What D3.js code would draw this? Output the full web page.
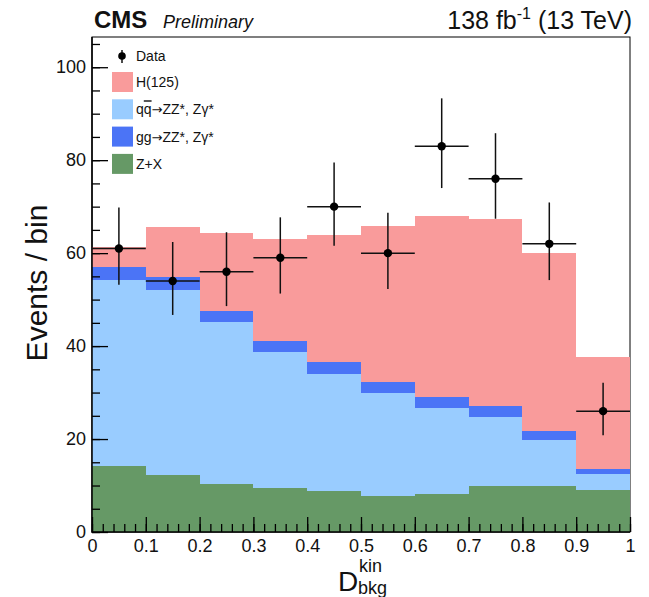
<!DOCTYPE html>
<html>
<head>
<meta charset="utf-8">
<script src="https://cdn.jsdelivr.net/npm/d3@7"></script>
<style>
  body { margin: 0; background: #fff; }
  svg { font-family: "Liberation Sans", Arial, sans-serif; }
</style>
</head>
<body>
<svg id="chart"></svg>
<script>
// size of the picture
var width = 649;
var height = 597;
var margin = { top: 37, right: 19, bottom: 65, left: 92 };

// bins of D_bkg^kin (lower edges) and bin width
const binLow = [0.0, 0.1, 0.2, 0.3, 0.4, 0.5, 0.6, 0.7, 0.8, 0.9];
const binWidth = 0.1;

// expected events per bin, per process
const zx = [14.2, 12.2, 10.3, 9.4, 8.8, 7.8, 8.2, 9.9, 10.0, 9.1];
const qqZZ = [40.1, 39.9, 34.8, 29.3, 25.3, 22.0, 18.5, 14.8, 9.7, 3.4];
const ggZZ = [2.8, 2.7, 2.5, 2.5, 2.4, 2.5, 2.3, 2.4, 2.0, 1.0];
const higgs = [4.3, 10.9, 16.8, 21.9, 27.4, 33.6, 38.9, 40.3, 38.4, 24.2];

// observed data and its asymmetric errors
const obs = [61, 54, 56, 59, 70, 60, 83, 76, 62, 26];
const errLo = [7.8, 7.3, 7.4, 7.7, 8.4, 7.7, 9.0, 8.6, 7.8, 5.2];
const errHi = [8.8, 8.4, 8.5, 8.7, 9.5, 8.7, 10.3, 9.8, 8.9, 6.1];

// axis ticks
const yTicks = [0, 20, 40, 60, 80, 100];
const xTicks = [0, 0.1, 0.2, 0.3, 0.4, 0.5, 0.6, 0.7, 0.8, 0.9, 1];

// processes, bottom to top of the stack
const procKeys = ["zx", "qq", "gg", "h"];
const procColor = { zx: "#669966", qq: "#99ccff", gg: "#4b74f6", h: "#f99b9b" };
const legendItems = [
    { key: "h", label: "H(125)" },
    { key: "qq", label: "qq" },
    { key: "gg", label: "gg" },
    { key: "zx", label: "Z+X" }
];

var svg = d3.select("#chart").attr("width", width).attr("height", height);

var x = d3.scaleLinear().domain([0, 1]).range([margin.left, width - margin.right]);
var y = d3.scaleLinear().domain([0, 106.5]).range([height - margin.bottom, margin.top]);

// table for the stack
var table = binLow.map((lo, i) => ({
    lo: lo, zx: zx[i], qq: qqZZ[i], gg: ggZZ[i], h: higgs[i]
}));
var series = d3.stack().keys(procKeys)(table);

// frame (drawn first, histogram covers it)
svg.append("rect")
    .attr("x", x(0)).attr("y", y.range()[1])
    .attr("width", x(1) - x(0)).attr("height", y.range()[0] - y.range()[1])
    .attr("fill", "none").attr("stroke", "#000").attr("stroke-width", 1);

// stacked histogram
var stackG = svg.append("g").attr("shape-rendering", "crispEdges");
series.forEach((s) => {
    stackG.append("g")
        .attr("fill", procColor[s.key])
        .selectAll("rect")
        .data(s)
        .join("rect")
        .attr("x", (d) => x(d.data.lo))
        .attr("width", (d) => x(d.data.lo + binWidth) - x(d.data.lo))
        .attr("y", (d) => y(d[1]))
        .attr("height", (d) => y(d[0]) - y(d[1]));
});

// axes with ticks pointing inwards
var yAxis = d3.axisLeft(y).tickValues(yTicks).tickSize(-16).tickPadding(6);
var yMinor = d3.axisLeft(y).tickValues(d3.range(0, 106, 5)).tickSize(-8).tickFormat("");
var xAxis = d3.axisBottom(x).tickValues(xTicks).tickSize(-15).tickPadding(7)
    .tickFormat((d) => d3.format("")(+d.toFixed(1)));
var xMinor = d3.axisBottom(x).tickValues(d3.range(0, 1.001, 0.02)).tickSize(-8).tickFormat("");

function styleAxis(g) {
    g.select(".domain").remove();
    g.selectAll("line").attr("stroke", "#000").attr("stroke-width", 1.3);
    g.selectAll("text").attr("fill", "#111").style("font-size", "18px")
        .style("font-family", "Liberation Sans, Arial, sans-serif");
}

svg.append("g").attr("transform", `translate(${x(0)},0)`).call(yMinor).call(styleAxis);
svg.append("g").attr("transform", `translate(${x(0)},0)`).call(yAxis).call(styleAxis);
svg.append("g").attr("transform", `translate(0,${y(0)})`).call(xMinor).call(styleAxis);
svg.append("g").attr("transform", `translate(0,${y(0)})`).call(xAxis).call(styleAxis);

// left and bottom axis lines on top
svg.append("path")
    .attr("d", `M${x(0)},${y.range()[1]}V${y(0)}H${x(1)}`)
    .attr("fill", "none").attr("stroke", "#000").attr("stroke-width", 1.5);

// data points
var dataG = svg.append("g").attr("stroke", "#111").attr("stroke-width", 1.5);
obs.forEach((v, i) => {
    var xc = x(binLow[i] + binWidth / 2);
    dataG.append("line")
        .attr("x1", x(binLow[i])).attr("x2", x(binLow[i] + binWidth))
        .attr("y1", y(v)).attr("y2", y(v));
    dataG.append("line")
        .attr("x1", xc).attr("x2", xc)
        .attr("y1", y(v - errLo[i])).attr("y2", y(v + errHi[i]));
    dataG.append("circle")
        .attr("cx", xc).attr("cy", y(v)).attr("r", 4.2)
        .attr("fill", "#000").attr("stroke", "none");
});

// legend
var leg = svg.append("g").style("font-size", "14px").attr("fill", "#111");
leg.append("line").attr("x1", 122).attr("x2", 122).attr("y1", 50).attr("y2", 63)
    .attr("stroke", "#111").attr("stroke-width", 1.5);
leg.append("circle").attr("cx", 122).attr("cy", 56).attr("r", 3.8).attr("fill", "#000");
leg.append("text").attr("x", 136).attr("y", 61).text("Data");

legendItems.forEach((it, i) => {
    var yc = 82 + i * 27.3;
    leg.append("rect")
        .attr("x", 112).attr("y", yc - 10).attr("width", 21).attr("height", 20)
        .attr("fill", procColor[it.key]);
    var t = leg.append("text").attr("x", 136).attr("y", yc + 5);
    if (it.key === "qq" || it.key === "gg") {
        if (it.key === "qq") {
            t.append("tspan").text("q");
            t.append("tspan").style("text-decoration", "overline").text("q");
        } else {
            t.append("tspan").text("gg");
        }
        t.append("tspan").style("font-family", "DejaVu Sans").style("font-size", "13px").text("\u2192");
        t.append("tspan").text("ZZ*, Z\u03b3*");
    } else {
        t.text(it.label);
    }
});

// header
svg.append("text").attr("x", 94).attr("y", 28)
    .style("font-size", "24px").style("font-weight", "bold").attr("fill", "#111").text("CMS");
svg.append("text").attr("x", 163).attr("y", 28)
    .style("font-size", "18px").style("font-style", "italic").attr("fill", "#111").text("Preliminary");
var lumi = svg.append("text").attr("x", 632).attr("y", 29).attr("text-anchor", "end")
    .style("font-size", "25px").attr("fill", "#111");
lumi.append("tspan").text("138 fb");
lumi.append("tspan").attr("dy", -10).style("font-size", "16px").text("-1");
lumi.append("tspan").attr("dy", 10).text(" (13 TeV)");

// y title
svg.append("text")
    .attr("transform", "translate(47,283) rotate(-90)")
    .attr("text-anchor", "middle")
    .style("font-size", "30px").attr("fill", "#111")
    .text("Events / bin");

// x title: D_bkg^kin
var xt = svg.append("g").attr("fill", "#111");
xt.append("text").attr("x", 338).attr("y", 591).style("font-size", "28px").text("D");
xt.append("text").attr("x", 359).attr("y", 572).style("font-size", "18px").text("kin");
xt.append("text").attr("x", 358).attr("y", 594).style("font-size", "18px").text("bkg");
</script>
</body>
</html>
